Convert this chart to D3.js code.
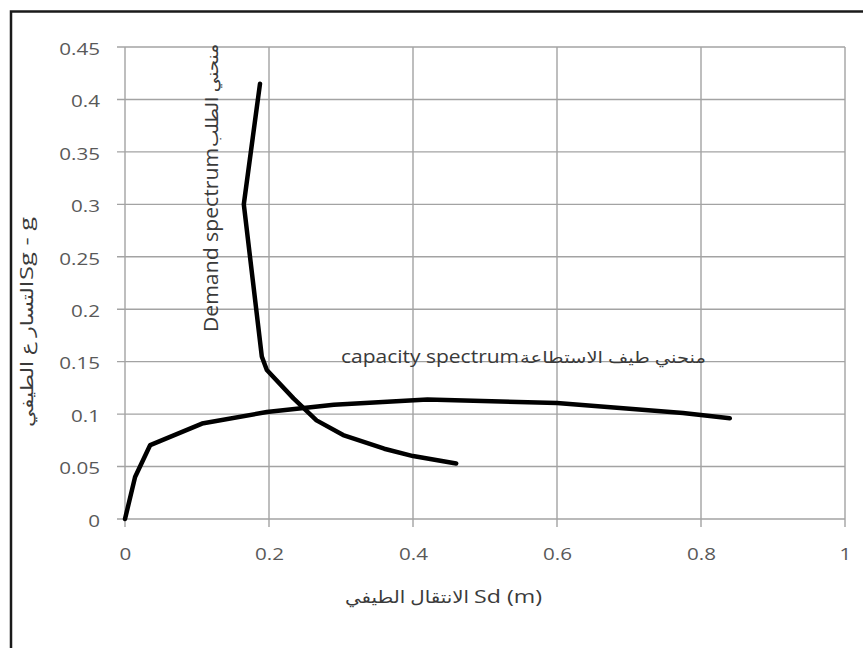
<!DOCTYPE html>
<html>
<head>
<meta charset="utf-8">
<script src="https://cdn.jsdelivr.net/npm/d3@7"></script>
<style>
  body { margin: 0; background: #fff; }
  text { font-family: "Open Sans", "DejaVu Sans", sans-serif; }
</style>
</head>
<body>
<div id="chart"></div>
<script>
// values
const capacityX = [0, 0.014, 0.035, 0.107, 0.197, 0.29, 0.42, 0.6, 0.775, 0.84];
const capacityY = [0, 0.04, 0.0705, 0.091, 0.102, 0.109, 0.114, 0.1105, 0.101, 0.096];
const demandX = [0.1875, 0.165, 0.19, 0.197, 0.234, 0.266, 0.303, 0.36, 0.4, 0.46];
const demandY = [0.415, 0.3, 0.155, 0.142, 0.115, 0.094, 0.08, 0.067, 0.06, 0.053];
const xTicks = [0, 0.2, 0.4, 0.6, 0.8, 1];
const xTickLabels = ["0", "0.2", "0.4", "0.6", "0.8", "1"];
const yTicks = [0, 0.05, 0.1, 0.15, 0.2, 0.25, 0.3, 0.35, 0.4, 0.45];
const yTickLabels = ["0", "0.05", "0.1", "0.15", "0.2", "0.25", "0.3", "0.35", "0.4", "0.45"];

const width = 863, height = 648;
const svg = d3.select("#chart").append("svg")
    .attr("width", width)
    .attr("height", height);

// outer frame (right and bottom edges are cut off in the picture)
svg.append("path")
    .attr("d", "M11,648 L11,11.5 L863,11.5")
    .attr("fill", "none")
    .attr("stroke", "#1a1a1a")
    .attr("stroke-width", 2.5);

const x = d3.scaleLinear().domain([0, 1]).range([125, 845]);
const y = d3.scaleLinear().domain([0, 0.45]).range([519, 47]);

const grid = svg.append("g").attr("stroke", "#a3a3a3").attr("stroke-width", 1.4);
grid.selectAll(".vg").data(xTicks).enter().append("line")
    .attr("x1", d => x(d)).attr("x2", d => x(d))
    .attr("y1", y(0) + 8).attr("y2", y(0.45));
grid.selectAll(".hg").data(yTicks).enter().append("line")
    .attr("x1", x(0) - 8).attr("x2", x(1))
    .attr("y1", d => y(d)).attr("y2", d => y(d));

// tick labels through d3 axes
const xAxis = svg.append("g")
    .attr("transform", "translate(0," + y(0) + ")")
    .call(d3.axisBottom(x).tickValues(xTicks).tickSize(0).tickPadding(0)
        .tickFormat((d, i) => xTickLabels[i]));
xAxis.select(".domain").remove();
xAxis.selectAll("text")
    .attr("y", 41)
    .attr("dy", 0)
    .attr("transform", "scale(1.25,1)")
    .attr("fill", "#595959")
    .style("font-size", "16.5px");

const yAxis = svg.append("g")
    .attr("transform", "translate(100,1.5)")
    .call(d3.axisLeft(y).tickValues(yTicks).tickSize(0).tickPadding(0)
        .tickFormat((d, i) => yTickLabels[i]));
yAxis.select(".domain").remove();
yAxis.selectAll("text")
    .attr("x", 0)
    .attr("dy", "0.35em")
    .attr("transform", "scale(1.25,1)")
    .attr("fill", "#595959")
    .style("font-size", "16.5px");

// curves
const line = d3.line()
    .x(d => x(d[0]))
    .y(d => y(d[1]));

function drawCurve(xs, ys) {
    svg.append("path")
        .datum(xs.map((v, i) => [v, ys[i]]))
        .attr("d", line)
        .attr("fill", "none")
        .attr("stroke", "#000")
        .attr("stroke-width", 4.5)
        .attr("stroke-linejoin", "round")
        .attr("stroke-linecap", "round");
}
drawCurve(capacityX, capacityY);
drawCurve(demandX, demandY);

// text squeezed / stretched into the span it takes in the picture
function spanText(str, transform, len, size) {
    svg.append("text")
        .attr("transform", transform)
        .attr("direction", "ltr")
        .attr("fill", "#3a3a3a")
        .attr("textLength", len)
        .attr("lengthAdjust", "spacingAndGlyphs")
        .style("font-size", size + "px")
        .text(str);
}
function hText(str, x0, x1, base, size) {
    spanText(str, "translate(" + x0 + "," + base + ")", x1 - x0, size);
}
function vText(str, y0, y1, base, size) {
    spanText(str, "translate(" + base + "," + y0 + ") rotate(-90)", y0 - y1, size);
}

// annotations
hText("capacity spectrum", 341, 519, 363, 18);
hText("منحني طيف الاستطاعة", 520, 706, 363, 16);
vText("Demand spectrum", 332, 148, 218, 20);
vText("منحني الطلب", 147, 44, 218, 17);

// axis titles
vText("التسار ع الطيفي", 427, 281, 33, 17);
vText("Sg - g", 280, 217, 33, 18);
hText("الانتقال الطيفي", 345, 469, 603, 17);
hText("Sd (m)", 474, 542, 603, 18);
</script>
</body>
</html>
